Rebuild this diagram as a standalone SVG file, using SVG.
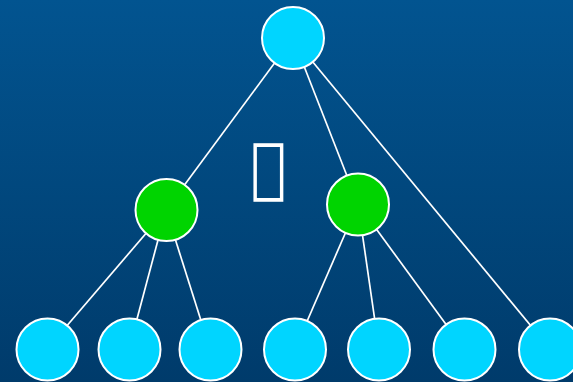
<svg xmlns="http://www.w3.org/2000/svg" width="573" height="382" viewBox="0 0 573 382">
  <defs>
    <linearGradient id="bg" x1="0" y1="0" x2="0" y2="1">
      <stop offset="0" stop-color="#025490"/>
      <stop offset="1" stop-color="#003b6b"/>
    </linearGradient>
  </defs>
  <style>
    .edge { stroke: #ffffff; stroke-width: 1.7; fill: none; }
    .leaf { fill: #00d5ff; stroke: #ffffff; stroke-width: 2; }
    .mid { fill: #00d400; stroke: #ffffff; stroke-width: 2; }
    .glyph { font-family: "DejaVu Sans", sans-serif; font-size: 60px; fill: #ffffff; }
  </style>
  <rect width="573" height="382" fill="url(#bg)"/>

  <g id="connectors">
    <line class="edge" x1="293" y1="38" x2="166" y2="210"/>
    <line class="edge" x1="293" y1="38" x2="358" y2="204"/>
    <line class="edge" x1="293" y1="38" x2="550" y2="349"/>
    <line class="edge" x1="166" y1="210" x2="47" y2="349"/>
    <line class="edge" x1="166" y1="210" x2="129" y2="349"/>
    <line class="edge" x1="166" y1="210" x2="210" y2="349"/>
    <line class="edge" x1="358" y1="204" x2="295" y2="349"/>
    <line class="edge" x1="358" y1="204" x2="379" y2="349"/>
    <line class="edge" x1="358" y1="204" x2="464" y2="349"/>
  </g>

  <g id="root"><circle class="leaf" cx="293" cy="38" r="31"/></g>
  <g id="mid-left"><circle class="mid" cx="166.5" cy="210" r="31"/></g>
  <g id="mid-right"><circle class="mid" cx="358" cy="204.5" r="31"/></g>
  <g id="leaf-1"><circle class="leaf" cx="47.5" cy="349.5" r="31"/></g>
  <g id="leaf-2"><circle class="leaf" cx="129.5" cy="349.5" r="31"/></g>
  <g id="leaf-3"><circle class="leaf" cx="210.5" cy="349.5" r="31"/></g>
  <g id="leaf-4"><circle class="leaf" cx="295" cy="349.5" r="31"/></g>
  <g id="leaf-5"><circle class="leaf" cx="379" cy="349.5" r="31"/></g>
  <g id="leaf-6"><circle class="leaf" cx="464.5" cy="349.5" r="31"/></g>
  <g id="leaf-7"><circle class="leaf" cx="550" cy="349.5" r="31"/></g>

  <g id="mark" transform="scale(1,1.1)">
    <text class="glyph" x="268.5" y="173" text-anchor="middle">&#xF0E8;</text>
  </g>
</svg>
